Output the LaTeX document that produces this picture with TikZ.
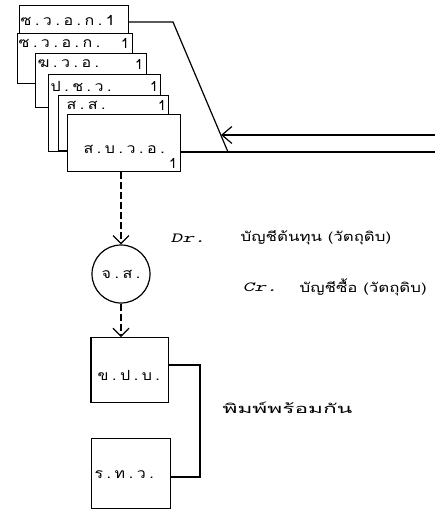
\documentclass[tikz,border=0pt]{standalone}
\usepackage{fontspec}
\newfontfamily\thai[Script=Thai]{Loma}
\newfontfamily\thaitt[Script=Thai,LetterSpace=22]{Loma}
\newcommand\wtx[2]{\scalebox{#1}[1]{#2}}
\newcommand\lbtx[1]{\scalebox{1.15}[1]{#1}}
\usetikzlibrary{arrows.meta,calc}
\begin{document}
\begin{tikzpicture}[x=1bp,y=-1bp,line width=1.2bp,
  doc/.style={draw,fill=white,anchor=north west,inner sep=0pt},
  lbl/.style={font=\thaitt\fontsize{14}{15}\selectfont,inner sep=0pt,anchor=west},
  one/.style={font=\thai\fontsize{14}{15}\selectfont,inner sep=0pt},
  txt/.style={font=\thai\fontsize{13}{15}\selectfont,inner sep=0pt,anchor=west},
  drcr/.style={font=\ttfamily\slshape\fontsize{14}{15}\selectfont,inner sep=0pt,anchor=west},
  tip/.style={-{Straight Barb[length=10bp,width=17bp]}},
  dtip/.style={-{Straight Barb[length=8bp,width=16bp]}},
  dsh/.style={dash pattern=on 7bp off 3bp}]
\useasboundingbox (0,0) rectangle (435,510);
% stacked documents
\node[doc,minimum width=109bp,minimum height=35bp] (d1) at (19,5) {};
\node[lbl] (l1) at (20,21) {\lbtx{ซ.ว.อ.ก.1}};
\node[doc,minimum width=115bp,minimum height=50bp] (d2) at (17,33) {};
\node[lbl] (l2) at (18,43) {\lbtx{ซ.ว.อ.ก.}};
\node[one] (o2) at (125,43) {1};
\node[doc,minimum width=111bp,minimum height=54bp] (d3) at (35,53) {};
\node[lbl] (l3) at (37,64) {\lbtx{ฆ.ว.อ.}};
\node[one] (o3) at (139,64) {1};
\node[doc,minimum width=112bp,minimum height=77bp] (d4) at (48,74) {};
\node[lbl] (l4) at (50,86) {\lbtx{ป.ช.ว.}};
\node[one] (o4) at (154,86) {1};
\node[doc,minimum width=110bp,minimum height=55bp] (d5) at (58,95) {};
\node[lbl] (l5) at (66,105) {\lbtx{ส.ส.}};
\node[one] (o5) at (162,105) {1};
\node[doc,minimum width=113bp,minimum height=57bp] (d6) at (67,114) {};
\node[lbl] (l6) at (83,149) {\lbtx{ส.บ.ว.อ.}};
\node[one] (o6) at (173,163) {1};
% lines to the right
\coordinate (p1) at (173,22);
\coordinate (p2) at (228,152);
\coordinate (rE) at (435,152);
\coordinate (aE) at (435,135);
\coordinate (aT) at (221,135);
\draw ($(d1.north east)+(0,17)$) -- (p1) -- (p2);
\draw ($(d6.north east)+(0,38)$) -- (rE);
\draw[tip] (aE) -- (aT);
% circle
\node[draw,circle,minimum size=58bp,inner sep=0pt,font=\thaitt\fontsize{14}{15}\selectfont] (c) at (121,274) {\lbtx{จ.ส.}};
\draw[dsh,dtip] (d6.south -| c) -- (c.north);
% journal entry
\node[drcr] (dr) at (170,238) {\wtx{1.6}{Dr.}};
\node[txt] (t1) at (240,238) {\wtx{1.3}{บัญชีต้นทุน (วัตถุดิบ)}};
\node[drcr] (cr) at (242,287) {\wtx{1.6}{Cr.}};
\node[txt] (t2) at (299,287) {\wtx{1.3}{บัญชีซื้อ (วัตถุดิบ)}};
% lower boxes
\node[doc,minimum width=77bp,minimum height=65bp] (b) at (91,337) {};
\draw[line width=2.4bp] (b.north west) -- (b.south west);
\node[lbl] (lb) at (97,375) {\lbtx{ข.ป.บ.}};
\draw[dsh,dtip] (c.south) -- (b.north -| c);
\node[doc,minimum width=79bp,minimum height=70bp] (r) at (91,438) {};
\node[lbl] (lr) at (94,475) {\lbtx{ร.ท.ว.}};
\coordinate (k1) at (200,365);
\coordinate (k2) at (200,477);
\draw ($(b.north east)+(0,28)$) -- (k1) -- (k2) -- ($(r.north east)+(0,39)$);
\node[txt] (t3) at (222,408) {\wtx{1.75}{พิมพ์พร้อมกัน}};
\end{tikzpicture}
\end{document}
